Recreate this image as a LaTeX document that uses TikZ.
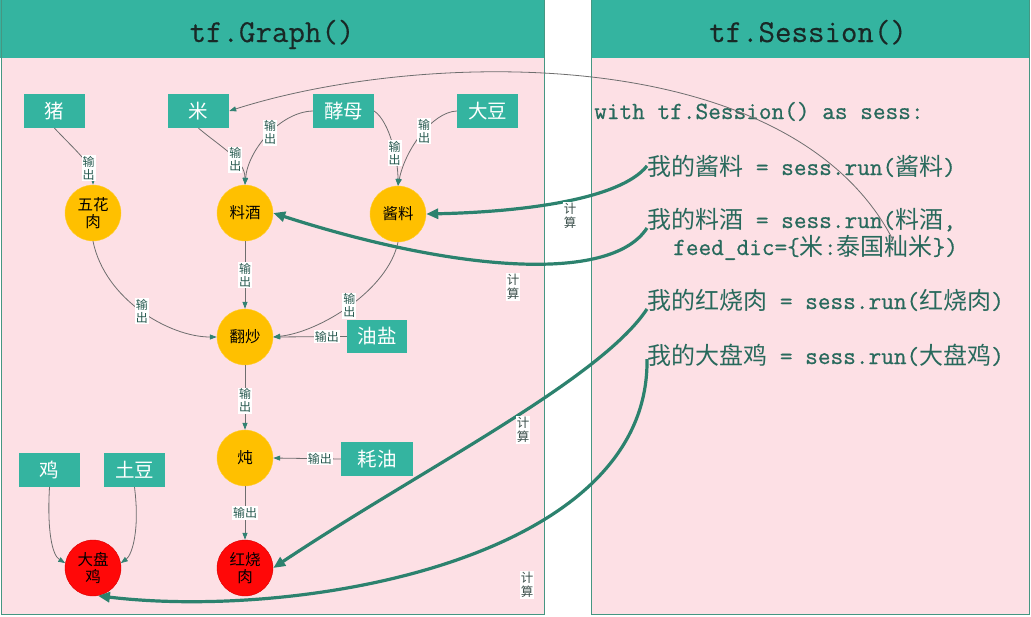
\documentclass[tikz,border=0pt]{standalone}
\usepackage{fontspec}
\newfontfamily\cjk{Noto Sans CJK SC}
\newfontfamily\mono[FakeBold=0.7]{Latin Modern Mono}
\newfontfamily\monot[FakeBold=0.3]{Latin Modern Mono}
\usetikzlibrary{arrows.meta}
\definecolor{teal1}{RGB}{52,180,160}
\definecolor{pinkbg}{RGB}{253,224,229}
\definecolor{borderc}{RGB}{70,150,130}
\definecolor{orangec}{RGB}{255,192,0}
\definecolor{redc}{RGB}{255,8,8}
\definecolor{thickc}{RGB}{44,130,110}
\definecolor{thinc}{RGB}{110,110,110}
\definecolor{arrc}{RGB}{50,130,115}
\definecolor{codec}{RGB}{40,105,92}
\definecolor{lblc}{RGB}{40,90,80}
\definecolor{calcc}{RGB}{60,80,76}
\definecolor{titlec}{RGB}{25,40,38}
\newcommand{\zh}[1]{{\cjk\fontsize{24}{24}\selectfont #1}}
\begin{document}
\begin{tikzpicture}[x=1pt,y=-1pt,
 inbox/.style={fill=teal1, text=white, minimum width=61pt, minimum height=34pt, inner sep=0pt, font=\cjk\fontsize{19.5}{20}\selectfont},
 op/.style={circle, fill=orangec, draw=orangec!80!white, minimum size=56pt, inner sep=0pt, font=\cjk\fontsize{15.5}{17}\selectfont, align=center},
 res/.style={op, fill=redc, draw=red!85!black},
 flow/.style={draw=thinc, line width=0.8pt, -{Triangle[length=7pt,width=5pt,color=arrc]}},
 calc/.style={draw=thickc, line width=3.2pt, -{Triangle[length=12pt,width=10pt]}},
 outl/.style={fill=white, inner sep=1pt, text=lblc, font=\cjk\fontsize{12}{13}\selectfont, align=center},
 calcl/.style={fill=white, inner sep=1pt, text=calcc, font=\cjk\fontsize{12.5}{14}\selectfont, align=center},
 code/.style={anchor=base west, text=codec, font=\mono\fontsize{24.6}{26}\selectfont, inner sep=0pt},
 title/.style={anchor=base, text=titlec, font=\monot\fontsize{32}{34}\selectfont, inner sep=0pt},
 panelborder/.style={draw=borderc, line width=1pt},
]
\useasboundingbox (0,0) rectangle (1031,616);
\fill[white] (0,0) rectangle (1031,616);
% panels
\fill[pinkbg] (1,58) rectangle (544,614);
\fill[teal1] (0,0) rectangle (544,58);
\draw[panelborder] (1.5,0) -- (1.5,614) -- (544,614) -- (544,0);
\fill[pinkbg] (591,58) rectangle (1029,614);
\fill[teal1] (591,0) rectangle (1029,58);
\draw[panelborder] (591,0) -- (591,614) -- (1029,614) -- (1029,0);
\node[title] (tg) at (272,42) {tf.Graph()};
\node[title] (ts) at (808,42) {tf.Session()};

% graph nodes
\node[inbox] (zhu) at (54.5,111) {猪};
\node[inbox] (mi) at (198.5,111) {米};
\node[inbox] (jiaomu) at (343.5,111) {酵母};
\node[inbox] (dadou) at (487.5,111) {大豆};
\node[op] (wuhua) at (93,213) {五花\\肉};
\node[op] (liaojiu) at (245,213) {料酒};
\node[op] (jiangliao) at (398,214) {酱料};
\node[op] (fanchao) at (245,337) {翻炒};
\node[inbox, minimum width=60pt, minimum height=33pt] (youyan) at (377,336.5) {油盐};
\node[op] (dun) at (245,458) {炖};
\node[inbox, minimum width=72pt] (haoyou) at (377,459) {耗油};
\node[inbox] (ji) at (49.5,470) {鸡};
\node[inbox] (tudou) at (134.5,470) {土豆};
\node[res] (dapanji) at (93,568) {大盘\\鸡};
\node[res] (hongshao) at (245,568) {红烧\\肉};

% code
\node[code] (L1) at (594,119) {with tf.Session() as sess:};
\node[code] (L2) at (647,175) {\zh{我的酱料} = sess.run(\zh{酱料})};
\node[code] (L3) at (647,228) {\zh{我的料酒} = sess.run(\zh{料酒},};
\node[code] (L4) at (673,255) {feed\_dic=\{\zh{米}:\zh{泰国籼米}\})};
\node[code] (L5) at (647,309) {\zh{我的红烧肉} = sess.run(\zh{红烧肉})};
\node[code] (L6) at (647,364) {\zh{我的大盘鸡} = sess.run(\zh{大盘鸡})};
\coordinate (xian) at (893,240);

% thin flows
\draw[flow] (zhu.south) .. controls (75,150) and (93,165) .. (wuhua.north) node[outl,pos=0.7]{输\\出};
\draw[flow] (mi.south) .. controls (222,148) and (245,160) .. (liaojiu.north) node[outl,pos=0.6]{输\\出};
\draw[flow] (jiaomu.west) .. controls (280,112) and (248,150) .. (liaojiu.north) node[outl,pos=0.47]{输\\出};
\draw[flow] (jiaomu.east) .. controls (390,122) and (398,160) .. (jiangliao.north) node[outl,pos=0.62]{输\\出};
\draw[flow] (dadou.west) .. controls (432,112) and (405,150) .. (jiangliao.north) node[outl,pos=0.45]{输\\出};
\draw[flow] (wuhua.south) .. controls (105,300) and (170,337) .. (fanchao.west) node[outl,pos=0.5]{输\\出};
\draw[flow] (liaojiu.south) -- (fanchao.north) node[outl,pos=0.5]{输\\出};
\draw[flow] (jiangliao.south) .. controls (388,290) and (320,332) .. (fanchao.east) node[outl,pos=0.5]{输\\出};
\draw[flow] (youyan.west) -- (fanchao.east) node[outl,pos=0.27]{输出};
\draw[flow] (fanchao.south) -- (dun.north) node[outl,pos=0.55]{输\\出};
\draw[flow] (haoyou.west) -- (dun.east) node[outl,pos=0.31]{输出};
\draw[flow] (dun.south) -- (hongshao.north) node[outl,pos=0.5]{输出};
\draw[flow] (ji.south) .. controls (47,530) and (52,555) .. (dapanji.170);
\draw[flow] (tudou.south) .. controls (140,530) and (132,555) .. (dapanji.10);
\draw[flow] (xian) .. controls (790,40) and (420,50) .. (mi.east);

% thick compute arrows
\draw[calc] (L2.west) .. controls (620,200) and (520,212) .. (jiangliao.east);
\draw[calc] (L3.base west) .. controls (610,285) and (450,270) .. (liaojiu.east);
\draw[calc] (L5.base west) .. controls (600,380) and (420,470) .. (hongshao.east);
\draw[calc] ([yshift=5pt]L6.base west) .. controls (650,560) and (300,620) .. (dapanji.-80);
\node[calcl] (c1) at (570,216) {计\\算};
\node[calcl] (c2) at (513,287) {计\\算};
\node[calcl] (c3) at (523,430) {计\\算};
\node[calcl] (c4) at (527,585) {计\\算};
\end{tikzpicture}
\end{document}
